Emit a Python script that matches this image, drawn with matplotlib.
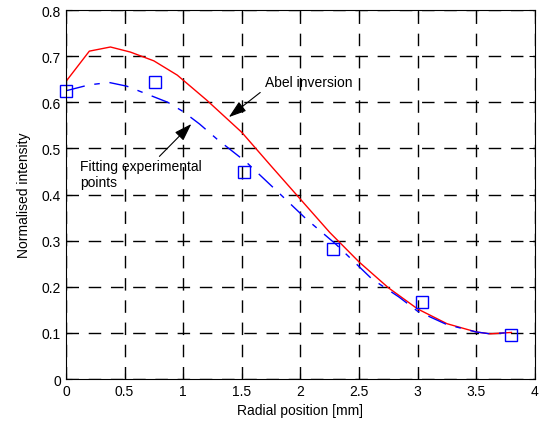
import matplotlib
matplotlib.use("Agg")
import matplotlib.pyplot as plt

plt.rcParams['font.family'] = ['Liberation Sans', 'DejaVu Sans']

# Abel inversion (red solid)
abel_x = [0.0, 0.2, 0.38, 0.55, 0.75, 0.95, 1.2, 1.5, 1.75, 2.0, 2.25, 2.5, 2.75, 3.0, 3.25, 3.5, 3.62, 3.8]
abel_y = [0.645, 0.711, 0.720, 0.709, 0.690, 0.659, 0.605, 0.535, 0.462, 0.390, 0.318, 0.254, 0.198, 0.152, 0.120, 0.102, 0.098, 0.101]

# fitted curve (blue dash-dot)
fit_x = [0.0, 0.2, 0.37, 0.52, 0.69, 0.87, 1.0, 1.14, 1.29, 1.54, 1.79, 2.05, 2.3, 2.61, 2.84, 3.0, 3.25, 3.5, 3.62, 3.8]
fit_y = [0.625, 0.638, 0.643, 0.635, 0.618, 0.600, 0.580, 0.553, 0.520, 0.470, 0.410, 0.347, 0.293, 0.217, 0.178, 0.147, 0.118, 0.102, 0.098, 0.101]

# experimental points
pts_x = [0.0, 0.76, 1.52, 2.28, 3.04, 3.8]
pts_y = [0.625, 0.645, 0.450, 0.283, 0.168, 0.095]

fig = plt.figure(figsize=(5.4, 4.27), dpi=100)
ax = fig.add_axes([0.122, 0.110, 0.8685, 0.864])

ax.plot(abel_x, abel_y, color='red', lw=1.0)
ax.plot(fit_x, fit_y, color='blue', lw=1.0, dashes=(14, 7, 4, 7))
ax.plot(pts_x, pts_y, ls='none', marker='s', ms=8, mfc='none', mec='blue', mew=1.0, clip_on=False)

ax.set_xlim(0, 4)
ax.set_ylim(0, 0.8)
ax.set_xticks([0, 0.5, 1, 1.5, 2, 2.5, 3, 3.5, 4])
ax.set_xticklabels(['0', '0.5', '1', '1.5', '2', '2.5', '3', '3.5', '4'])
ax.set_yticks([0, 0.1, 0.2, 0.3, 0.4, 0.5, 0.6, 0.7, 0.8])
ax.set_yticklabels(['0', '0.1', '0.2', '0.3', '0.4', '0.5', '0.6', '0.7', '0.8'])
ax.tick_params(direction='in', length=4, labelsize=10, top=True, right=True)
ax.grid(True, color='black', ls=(0, (9, 7)), lw=1.0)
ax.set_axisbelow(True)

ax.set_xlabel('Radial position [mm]', fontsize=10)
ax.set_ylabel('Normalised intensity', fontsize=10, labelpad=8)

ax.annotate('Abel inversion', xy=(1.39, 0.568), xytext=(1.70, 0.645),
            fontsize=10, ha='left', va='center',
            arrowprops=dict(arrowstyle='-|>,head_length=0.6,head_width=0.2', color='black',
                            lw=0.8, mutation_scale=18, shrinkA=2, shrinkB=0, relpos=(0.0, 0.0)))
ax.annotate('Fitting experimental\npoints', xy=(1.07, 0.553), xytext=(0.12, 0.444),
            fontsize=10, ha='left', va='center',
            arrowprops=dict(arrowstyle='-|>,head_length=0.6,head_width=0.2', color='black',
                            lw=0.8, mutation_scale=18, shrinkA=0, shrinkB=0, relpos=(0.63, 1.0)))

fig.savefig('out.png', dpi=100)
